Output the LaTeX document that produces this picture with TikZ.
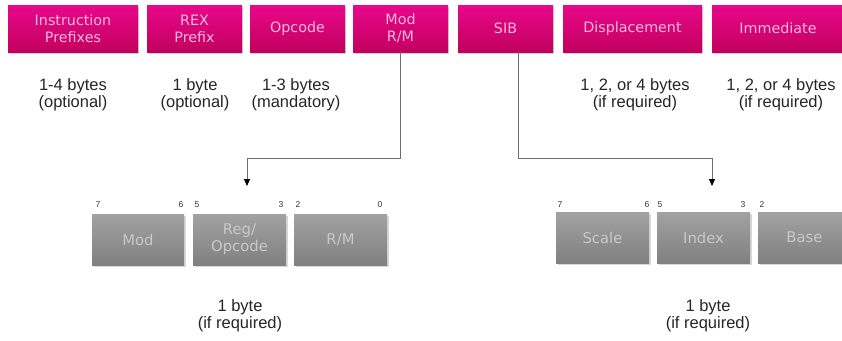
\documentclass[tikz,border=0pt]{standalone}
\usepackage{fontspec}
\setmainfont{Liberation Sans}
\newfontfamily\boxfont{DejaVu Sans}
\usetikzlibrary{shadows,arrows.meta}
\definecolor{magtop}{HTML}{E8088A}
\definecolor{magbot}{HTML}{C2005F}
\definecolor{magtxt}{HTML}{F6B8DE}
\definecolor{grytop}{HTML}{A2A2A2}
\definecolor{grybot}{HTML}{808080}
\definecolor{grytxt}{HTML}{C9C9C9}
\definecolor{linegray}{HTML}{6E6E6E}
\tikzset{
  topbox/.style={minimum height=47pt, inner sep=0pt, align=center,
    top color=magtop, bottom color=magbot, draw=none,
    font=\boxfont\fontsize{14.3}{17}\selectfont, text=magtxt,
    drop shadow={shadow xshift=1pt, shadow yshift=-1.5pt, opacity=0.35}},
  bitbox/.style={minimum height=51pt, minimum width=93pt, inner sep=0pt, align=center,
    top color=grytop, bottom color=grybot, draw=none,
    font=\boxfont\fontsize{14.8}{17}\selectfont, text=grytxt,
    drop shadow={shadow xshift=1.5pt, shadow yshift=-1.5pt, opacity=0.3}},
  info/.style={align=center, font=\fontsize{16.5}{17}\selectfont, text=black!85},
  bitnum/.style={font=\fontsize{8.5}{9}\selectfont, inner sep=0pt, text=black!80},
  conn/.style={draw=linegray, line width=0.9pt, -{Triangle[length=7pt,width=6pt,color=black]}}
}
\begin{document}
\begin{tikzpicture}[x=1pt,y=-1pt]
\clip (0,0) rectangle (842,340);
\fill[white] (0,0) rectangle (842,340);
% top row
\node[topbox, minimum width=130pt] (ip)  at (73,28.5)   {Instruction\\Prefixes};
\node[topbox, minimum width=95pt]  (rex) at (194.5,28.5) {REX\\Prefix};
\node[topbox, minimum width=95pt]  (opc) at (297.5,28.5) {Opcode};
\node[topbox, minimum width=95pt]  (mrm) at (400.5,28.5) {Mod\\R/M};
\node[topbox, minimum width=95pt]  (sib) at (505.5,28.5) {SIB};
\node[topbox, minimum width=139pt] (dsp) at (632.5,28.5) {Displacement};
\node[topbox, minimum width=132pt] (imm) at (778,28.5)   {Immediate};
% sizes
\node[info] (t1) at (73,95)   {1-4 bytes\\(optional)};
\node[info] (t2) at (195,95)  {1 byte\\(optional)};
\node[info] (t3) at (296,95)  {1-3 bytes\\(mandatory)};
\node[info] (t6) at (635,95)  {1, 2, or 4 bytes\\(if required)};
\node[info] (t7) at (781,95)  {1, 2, or 4 bytes\\(if required)};
% ModR/M byte
\node[bitbox, minimum width=92pt] (mod) at (138,239.5)   {Mod};
\node[bitbox] (reg) at (239.5,239.5) {Reg/\\Opcode};
\node[bitbox] (rm)  at (340.5,239.5) {R/M};
\node[bitnum] (b7a) at (98,205)  {7};
\node[bitnum] (b6a) at (181,205) {6};
\node[bitnum] (b5a) at (197,205) {5};
\node[bitnum] (b3a) at (281,205) {3};
\node[bitnum] (b2a) at (298,205) {2};
\node[bitnum] (b0a) at (380,205) {0};
\node[info] (m1) at (240,316) {1 byte\\(if required)};
% SIB byte
\node[bitbox] (scl) at (602.5,237.5) {Scale};
\node[bitbox] (idx) at (703.5,237.5) {Index};
\node[bitbox] (bas) at (804.5,237.5) {Base};
\node[bitnum] (b7b) at (560,205) {7};
\node[bitnum] (b6b) at (647,205) {6};
\node[bitnum] (b5b) at (660,205) {5};
\node[bitnum] (b3b) at (743,205) {3};
\node[bitnum] (b2b) at (762,205) {2};
\node[info] (s1) at (708,316) {1 byte\\(if required)};
% connectors
\coordinate (ta) at (247,186);
\coordinate (tb) at (712,186);
\draw[conn] (mrm.south) -- (400.5,158) -| (ta);
\draw[conn] ([xshift=12.5pt]sib.south) -- (518,158) -| (tb);
\end{tikzpicture}
\end{document}
